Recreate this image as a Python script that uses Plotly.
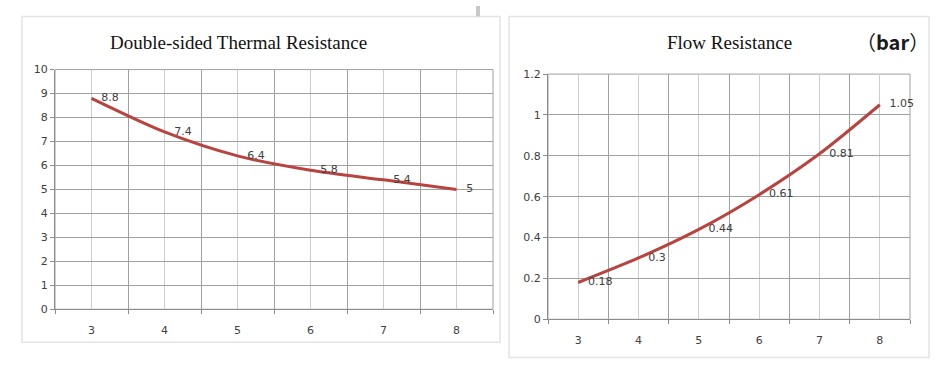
import plotly.graph_objects as go

# ---- data ----
categories = [3, 4, 5, 6, 7, 8]
thermal_resistance = [8.8, 7.4, 6.4, 5.8, 5.4, 5]
flow_resistance = [0.18, 0.3, 0.44, 0.61, 0.81, 1.05]
thermal_title = "Double-sided Thermal Resistance"
flow_title = "Flow Resistance"
flow_unit = "bar"

W, H = 948, 369
LINE = "#B8433F"
GRID = "#A0A0A0"
GRID_LIGHT = "#CDCDCD"
AXIS = "#8C8C8C"
TXT = "#404040"
TICKFONT = dict(family="DejaVu Sans", size=11, color=TXT)

# vertical calibration of the photographed page
Y_OFF, Y_SCALE = 5.6, 0.962


def px_x(v):
    return v / W


def px_y(v):
    return min(1.0, 1 - ((v - Y_OFF) / Y_SCALE) / H)


fig = go.Figure()

for xs, ys, xa, ya in ((categories, thermal_resistance, "x", "y"),
                       (categories, flow_resistance, "x2", "y2")):
    fig.add_trace(go.Scatter(
        x=xs, y=ys, mode="lines+markers+text",
        text=[str(v) for v in ys], textposition="middle right",
        textfont=dict(family="DejaVu Sans", size=11, color=TXT),
        marker=dict(size=14, color="rgba(0,0,0,0)"),
        line=dict(color=LINE, width=3, shape="spline", smoothing=0.8),
        xaxis=xa, yaxis=ya, hoverinfo="skip", cliponaxis=False,
    ))

common_x = dict(
    range=[2.5, 8.5], tickvals=categories, ticktext=[str(c) for c in categories],
    showgrid=True, gridcolor=GRID_LIGHT, gridwidth=1, ticks="", showline=True,
    linecolor=AXIS, linewidth=1, zeroline=False, ticklabelstandoff=11,
    tickfont=TICKFONT,
    minor=dict(tickvals=[2.5, 3.5, 4.5, 5.5, 6.5, 7.5, 8.5], showgrid=True,
               gridcolor=GRID, gridwidth=1, ticks="outside", ticklen=4,
               tickcolor=AXIS),
    fixedrange=True,
)
common_y = dict(
    showgrid=True, gridcolor=GRID, gridwidth=1, ticks="outside", ticklen=4,
    tickcolor=AXIS, showline=True, linecolor=AXIS, linewidth=1,
    zeroline=False, tickfont=TICKFONT, fixedrange=True,
)

fig.update_layout(
    width=W, height=H, autosize=False, margin=dict(l=0, r=0, t=0, b=0),
    paper_bgcolor="white", plot_bgcolor="white", showlegend=False,
    xaxis=dict(domain=[px_x(55), px_x(493)], anchor="y", **common_x),
    yaxis=dict(domain=[px_y(308), px_y(69)], anchor="x", range=[0, 10],
               dtick=1, tick0=0, **common_y),
    xaxis2=dict(domain=[px_x(548), px_x(910)], anchor="y2", **common_x),
    yaxis2=dict(domain=[px_y(318), px_y(73.5)], anchor="x2", range=[0, 1.2],
                tickvals=[0, 0.2, 0.4, 0.6, 0.8, 1, 1.2],
                ticktext=["0", "0.2", "0.4", "0.6", "0.8", "1", "1.2"],
                **common_y),
)

# top and right edges of the grid
for xr, yr in (("x", "y"), ("x2", "y2")):
    fig.add_shape(type="rect", xref=f"{xr} domain", yref=f"{yr} domain",
                  x0=0, x1=1, y0=0, y1=1, line=dict(color=GRID, width=1),
                  layer="below")

# chart-area panels
fig.add_shape(type="rect", xref="paper", yref="paper",
              x0=px_x(22), x1=px_x(500), y0=px_y(341), y1=px_y(16),
              line=dict(color="#E3E3E3", width=1.5), layer="below")
fig.add_shape(type="rect", xref="paper", yref="paper",
              x0=px_x(509), x1=px_x(929), y0=px_y(356), y1=px_y(16),
              line=dict(color="#E3E3E3", width=1.5), layer="below")
fig.add_shape(type="rect", xref="paper", yref="paper",
              x0=px_x(476), x1=px_x(480), y0=px_y(16), y1=1,
              line=dict(width=0), fillcolor="#C8C8C8", layer="below")

fig.add_annotation(text=thermal_title, xref="paper", yref="paper",
                   x=px_x(238), y=px_y(42), xanchor="center", yanchor="middle",
                   showarrow=False,
                   font=dict(family="Liberation Serif", size=19, color="#111111"))
fig.add_annotation(text=flow_title, xref="paper", yref="paper",
                   x=px_x(729), y=px_y(42), xanchor="center", yanchor="middle",
                   showarrow=False,
                   font=dict(family="Liberation Serif", size=19, color="#111111"))
fig.add_annotation(text="（<b>" + flow_unit + "</b>）", xref="paper", yref="paper",
                   x=px_x(892), y=px_y(41), xanchor="center", yanchor="middle",
                   showarrow=False,
                   font=dict(family="Noto Sans CJK SC", size=20, color="#1A1A1A"))

fig.write_html(
    "out.html",
    config={"displayModeBar": False, "responsive": False},
    post_script=("document.documentElement.style.margin='0';"
                 "document.body.style.margin='0';"
                 "document.body.style.overflow='hidden';"),
)
